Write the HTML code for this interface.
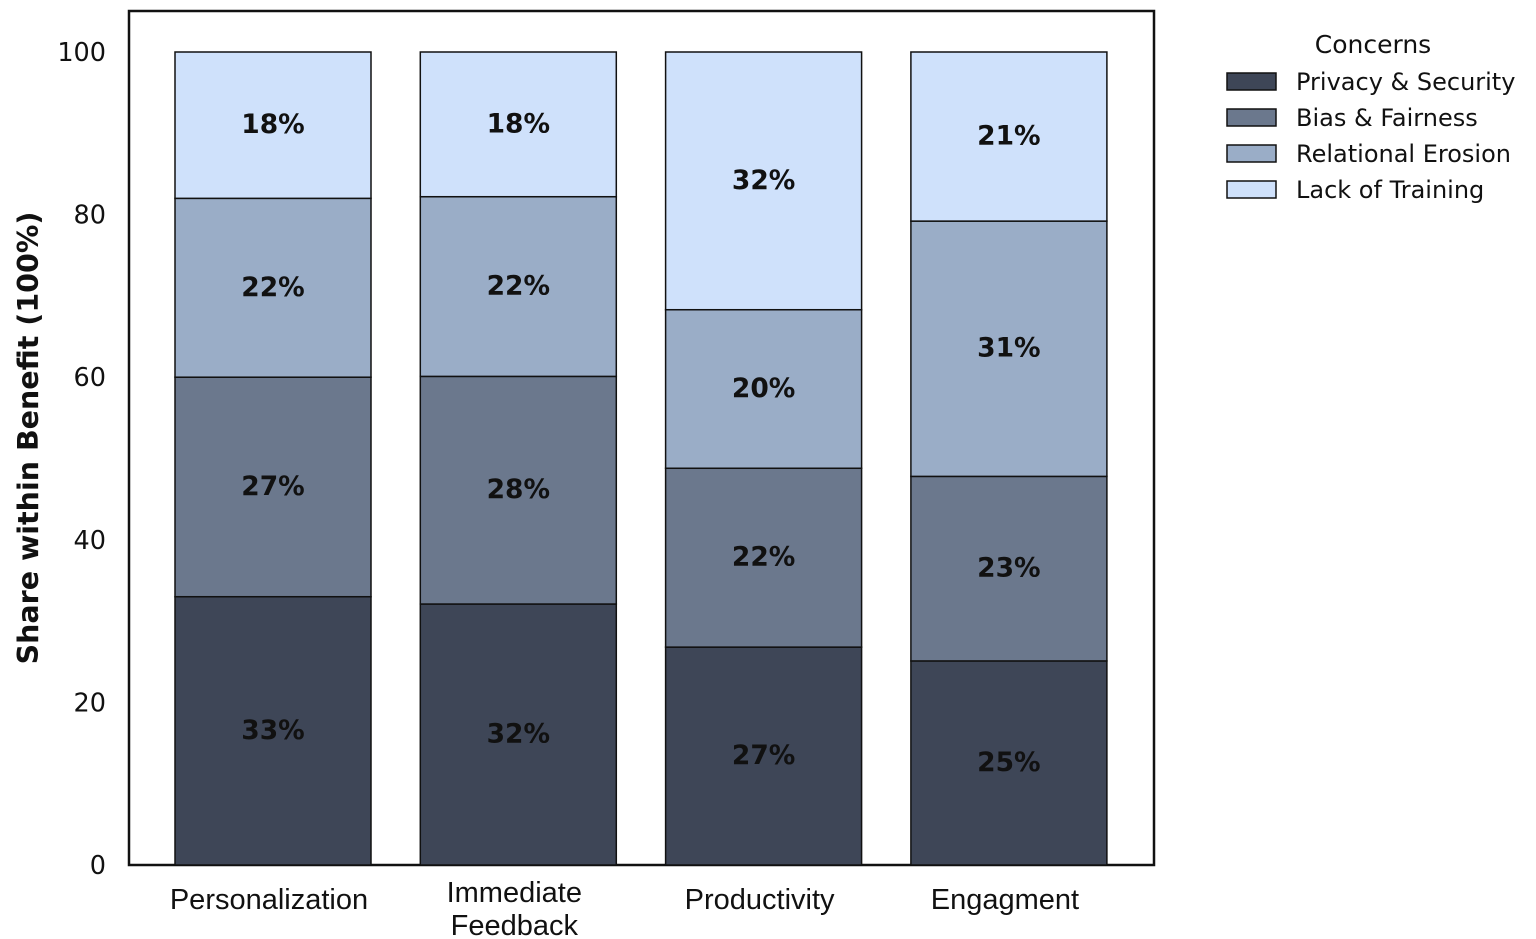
<!DOCTYPE html>
<html><head><meta charset="utf-8"><style>
html,body{margin:0;padding:0;background:#fff;width:1536px;height:939px;overflow:hidden}
svg text{font-family:"DejaVu Sans","Liberation Sans",sans-serif}
svg text.xl{font-family:"Liberation Sans",sans-serif}
</style></head><body>
<svg id="chart" width="1536" height="939">
<rect x="129" y="11" width="1025" height="854" fill="none" stroke="#111" stroke-width="2.5"/>
<g id="bars"></g>
<g id="yticks"></g>
<g id="xlabels"></g>
<text transform="translate(38,438) rotate(-90)" text-anchor="middle" font-size="28.5" font-weight="bold" fill="#111">Share within Benefit (100%)</text>
<g id="legend">
<text x="1373" y="53" text-anchor="middle" font-size="25" fill="#111">Concerns</text>
</g>
</svg>
<script>
const categories=["Personalization","Immediate|Feedback","Productivity","Engagment"];
const series=["Privacy & Security","Bias & Fairness","Relational Erosion","Lack of Training"];
const privacy=[33,32.1,26.8,25.1];
const bias=[27,28,22,22.7];
const relational=[22,22.1,19.5,31.4];
const training=[18,17.8,31.7,20.8];
const printed=[["33%","27%","22%","18%"],["32%","28%","22%","18%"],["27%","22%","20%","32%"],["25%","23%","31%","21%"]];
const yTicks=[0,20,40,60,80,100];
const colors=["#3e4657","#6b788d","#9aadc7","#cfe1fb"];
const ns="http://www.w3.org/2000/svg";
const y0=865,y100=52;
function yS(v){return y0-(y0-y100)*v/100;}
function xS(i){return 175+i*245.3;}
const bw=196;
const bars=document.getElementById('bars');
const vals=[privacy,bias,relational,training];
for(let i=0;i<categories.length;i++){
 let cum=0;
 for(let s=0;s<4;s++){
  const v=vals[s][i];
  const r=document.createElementNS(ns,'rect');
  r.setAttribute('x',xS(i));r.setAttribute('y',yS(cum+v));
  r.setAttribute('width',bw);r.setAttribute('height',yS(cum)-yS(cum+v));
  r.setAttribute('fill',colors[s]);r.setAttribute('stroke','#111');r.setAttribute('stroke-width','1.5');
  
  
  bars.appendChild(r);
  const t=document.createElementNS(ns,'text');
  t.setAttribute('x',xS(i)+bw/2);t.setAttribute('y',yS(cum+v/2)+8);
  t.setAttribute('text-anchor','middle');t.setAttribute('font-size','26.5');t.setAttribute('font-weight','bold');t.setAttribute('fill','#111');
  t.textContent=printed[i][s];
  
  
  bars.appendChild(t);
  cum+=v;
 }
 const lines=categories[i].split('|');
 lines.forEach((ln,k)=>{
  const t=document.createElementNS(ns,'text');
  t.setAttribute('class','xl');
  t.setAttribute('x',xS(i)+bw/2-4);t.setAttribute('y',(lines.length>1?902:909)+k*33);
  t.setAttribute('text-anchor','middle');t.setAttribute('font-size','29');t.setAttribute('fill','#111');
  t.textContent=ln;
  
  
  document.getElementById('xlabels').appendChild(t);
 });
}
yTicks.forEach(v=>{
 const t=document.createElementNS(ns,'text');
 t.setAttribute('x',106);t.setAttribute('y',yS(v)+9);t.setAttribute('text-anchor','end');
 t.setAttribute('font-size','25.5');t.setAttribute('fill','#111');t.textContent=v;
 
 
 document.getElementById('yticks').appendChild(t);
});
const lg=document.getElementById('legend');
series.forEach((s,k)=>{
 const y=73+k*36;
 const r=document.createElementNS(ns,'rect');
 r.setAttribute('x',1227);r.setAttribute('y',y);r.setAttribute('width',49);r.setAttribute('height',17);
 r.setAttribute('fill',colors[k]);r.setAttribute('stroke','#111');r.setAttribute('stroke-width','1.5');
 
 
 lg.appendChild(r);
 const t=document.createElementNS(ns,'text');
 t.setAttribute('x',1296);t.setAttribute('y',y+17);t.setAttribute('font-size','24');t.setAttribute('fill','#111');
 t.textContent=s;
 
 
 lg.appendChild(t);
});
</script>
</body></html>
